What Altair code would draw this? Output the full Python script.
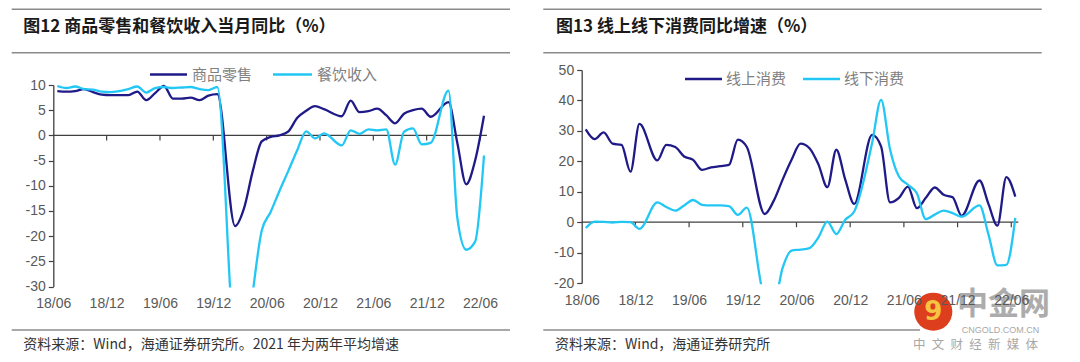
import altair as alt
import pandas as pd

# ---------------- data (monthly, 2018/06 .. 2022/06; None = January, not published) ----------------
tick_labels = ["18/06", "18/12", "19/06", "19/12", "20/06", "20/12", "21/06", "21/12", "22/06"]

left_series = ["商品零售", "餐饮收入"]
goods_retail = [8.8, 8.7, 8.8, 9.2, 8.6, 8.1, 8.0,
                None, 8.0, 8.7, 7.0, 8.4, 9.8, 7.3, 7.3, 7.5, 7.0, 7.9, 8.2,
                None, -18.0, -14.5, -7.0, -1.2, -0.3, 0.0, 0.8, 3.5, 4.9, 5.8, 5.2,
                None, 3.8, 6.9, 4.6, 4.8, 5.3, 4.0, 2.4, 4.3, 5.0, 5.3, 3.7,
                None, 6.6, -1.5, -9.7, -5.0, 3.9]
catering = [9.8, 9.4, 9.7, 9.2, 9.1, 8.7, 8.6,
            None, 9.2, 9.7, 8.5, 9.4, 9.6, 9.4, 9.5, 9.6, 9.2, 9.0, 9.6,
            None, -43.1, -46.8, -31.1, -18.9, -15.2, -11.0, -7.0, -2.9, 0.8, -0.6, 0.4,
            None, -2.0, 1.0, 0.3, 1.2, 1.0, 1.2, -5.8, 0.7, 1.4, -1.8, -1.5,
            None, 8.9, -16.4, -22.7, -21.1, -4.0]

right_series = ["线上消费", "线下消费"]
online = [30.5, 27.3, 29.5, 25.8, 25.4, 16.6, 32.3,
          None, 20.3, 25.4, 24.7, 21.6, 20.5, 17.2, 18.0, 18.4, 18.8, 27.1, 24.7,
          None, 2.7, 7.0, 14.0, 20.5, 25.8, 24.3, 19.0, 11.5, 23.8, 14.0, 6.0,
          None, 28.7, 24.9, 6.5, 8.0, 11.7, 4.6, 8.0, 11.4, 9.0, 8.2, 2.1,
          None, 13.7, 6.0, -1.1, 14.8, 8.4]
offline = [-1.9, 0.2, 0.1, -0.1, 0.1, 0.0, -2.2,
           None, 6.5, 5.0, 3.8, 5.5, 7.3, 5.7, 5.5, 5.5, 5.3, 2.4, 4.8,
           None, -25.0, -27.0, -15.0, -9.3, -9.0, -8.5, -5.0, 0.2, -3.9, 0.8, 3.5,
           None, 26.0, 40.2, 24.0, 15.0, 12.3, 9.5, 1.0, 2.5, 3.8, 3.0, 1.8,
           None, 5.5, -4.0, -14.2, -14.0, 1.4]

left_y_ticks = [10, 5, 0, -5, -10, -15, -20, -25, -30]
right_y_ticks = [50, 40, 30, 20, 10, 0, -10, -20]

left_title = "图12 商品零售和餐饮收入当月同比（%）"
right_title = "图13 线上线下消费同比增速（%）"
left_note = "资料来源：Wind，海通证券研究所。2021 年为两年平均增速"
right_note = "资料来源：Wind，海通证券研究所"
brand = ["中金网", "CNGOLD.COM.CN", "中 文 财 经 新 媒 体"]

# ---------------- styles / layout ----------------
NAVY = "#1F1A87"
CYAN = "#22C7F5"
AXIS = "#404040"
LABEL = "#595959"
SANS = "Liberation Sans"
CJK = "Noto Sans CJK SC"
W, H = 1064, 346
SHIFT = 0.45          # month labels sit at month start, points about mid-month
LAST = len(goods_retail) - 1

x_ticks = [6 * j - SHIFT for j in range(len(tick_labels))]
label_expr = "[" + ",".join(f"'{t}'" for t in tick_labels) + f"][round((datum.value + {SHIFT}) / 6)]"


def one(**kw):
    return pd.DataFrame({k: [v] for k, v in kw.items()})


def long_df(names, *lists):
    rows = []
    for name, vals in zip(names, lists):
        for k, v in enumerate(vals):
            if v is not None:
                rows.append({"m": k, "series": name, "value": v})
    return pd.DataFrame(rows)


def panel(names, lists, x_range, y_domain, y_range, y_ticks, x_lab_offset):
    xs = alt.Scale(domain=[-SHIFT, LAST], range=x_range, nice=False, zero=False)
    ys = alt.Scale(domain=y_domain, range=y_range, nice=False, zero=False)
    layers = []
    layers.append(
        alt.Chart(one(a=-SHIFT, b=LAST, y=0)).mark_rule(color=AXIS, strokeWidth=1.3, x2Offset=3).encode(
            x=alt.X("a:Q", scale=xs, axis=None), x2="b:Q", y=alt.Y("y:Q", scale=ys, axis=None))
    )
    layers.append(
        alt.Chart(pd.DataFrame({"m": x_ticks[1:], "y": [0] * (len(x_ticks) - 1)}))
        .mark_tick(orient="vertical", size=5, thickness=1.2, yOffset=2.5, color=AXIS, opacity=1)
        .encode(x=alt.X("m:Q", scale=xs, axis=None), y=alt.Y("y:Q", scale=ys, axis=None))
    )
    x_axis = alt.Axis(values=x_ticks, labelExpr=label_expr, orient="bottom", offset=x_lab_offset,
                      domain=False, ticks=False, tickSize=0, grid=False, labelPadding=0,
                      labelBaseline="middle", labelAlign="center", labelFont=SANS, labelFontSize=14,
                      labelColor=LABEL, labelFlush=False, labelOverlap=False, title=None, zindex=1)
    y_axis = alt.Axis(values=y_ticks, orient="left", offset=-x_range[0], labelExpr="'' + datum.value",
                      domainColor=AXIS, domainWidth=1.3, tickColor=AXIS, tickWidth=1.2, tickSize=5,
                      labelPadding=3, labelFont=SANS, labelFontSize=14, labelColor=LABEL, grid=False,
                      labelFlush=False, labelOverlap=False, title=None, zindex=1)
    df = long_df(names, *lists)
    for idx, (name, color) in enumerate(zip(names, [NAVY, CYAN])):
        sub = df[df.series == name]
        layers.append(
            alt.Chart(sub).mark_line(interpolate="monotone", strokeWidth=2.3, color=color).encode(
                x=alt.X("m:Q", scale=xs, axis=x_axis if idx == 0 else None),
                y=alt.Y("value:Q", scale=ys, axis=y_axis if idx == 0 else None),
            )
        )
    return layers


def rule(x1, x2, y, color, width):
    return alt.Chart(one(k=0)).mark_rule(color=color, strokeWidth=width).encode(
        x=alt.value(x1), x2=alt.value(x2), y=alt.value(y))


def text(t, x, y, size, color, font=CJK, weight="normal", align="left", opacity=1.0):
    return alt.Chart(one(t=t)).mark_text(align=align, baseline="middle", font=font, fontSize=size,
                                         fontWeight=weight, color=color, opacity=opacity).encode(
        x=alt.value(x), y=alt.value(y), text="t:N")


def mask(x1, x2, y1, y2):
    return alt.Chart(one(k=0)).mark_rect(color="white").encode(
        x=alt.value(x1), x2=alt.value(x2), y=alt.value(y1), y2=alt.value(y2))


layers = []
# title bars
for x1, x2, title, tx in [(3.7, 502, left_title, 15.3), (535.3, 1033.7, right_title, 548)]:
    layers.append(rule(x1, x2, 1.3, "#8a8a8a", 1.5))
    layers.append(rule(x1, x2, 44.7, "#8a8a8a", 1.5))
    layers.append(text(title, tx, 18.7, 17, "#1a1a1a", weight="bold"))

# panels
layers += panel(left_series, [goods_retail, catering], [45.3, 476.0], [-30, 10], [278.5, 77],
                left_y_ticks, -51)
layers += panel(right_series, [online, offline], [573.7, 1007.3], [-20, 50], [275.1, 62],
                right_y_ticks, -54)

# hide the parts of the lines that fall below the plot floor
layers.append(mask(46, 500, 279.6, H))
layers.append(mask(575, 1040, 276.2, H))

# legends
for (lx, ly, names) in [((142, 179, 184, 265, 304, 309), 66.5, left_series),
                        ((677, 714, 718, 795, 832, 836), 71, right_series)]:
    layers.append(rule(lx[0], lx[1], ly, NAVY, 2.6))
    layers.append(text(names[0], lx[2], ly, 15, "#808080"))
    layers.append(rule(lx[3], lx[4], ly, CYAN, 2.6))
    layers.append(text(names[1], lx[5], ly, 15, "#808080"))

# footnotes
layers.append(rule(3.7, 502, 322, "#555555", 1.2))
layers.append(text(left_note, 15.3, 337, 14, "#333333"))
layers.append(rule(535.3, 912, 322, "#555555", 1.2))
layers.append(text(right_note, 547, 337, 14, "#333333"))

# watermark
layers.append(alt.Chart(one(k=0)).mark_circle(size=1452, color="#DD3F1E", opacity=1).encode(
    x=alt.value(925.3), y=alt.value(303.7)))
layers.append(text("9", 925.3, 304, 26, "#F6C443", font="DejaVu Sans", weight="bold", align="center"))
layers.append(text(brand[0], 949, 297, 31, "#9E9E9E", weight="bold", opacity=0.85))
layers.append(text(brand[1], 953.7, 321.5, 9, "#A8A8A8", font=SANS))
layers.append(text(brand[2].replace(" ", "\u2002"), 905, 337, 12.5, "#A8A8A8"))

chart = (
    alt.layer(*layers)
    .resolve_scale(x="independent", y="independent")
    .properties(width=W, height=H, autosize=alt.AutoSizeParams(type="none"),
                padding={"left": 0, "right": 0, "top": 0, "bottom": 0}, background="white")
    .configure_view(stroke=None)
)

chart.save("out.html", embed_options={"renderer": "svg", "actions": False})
